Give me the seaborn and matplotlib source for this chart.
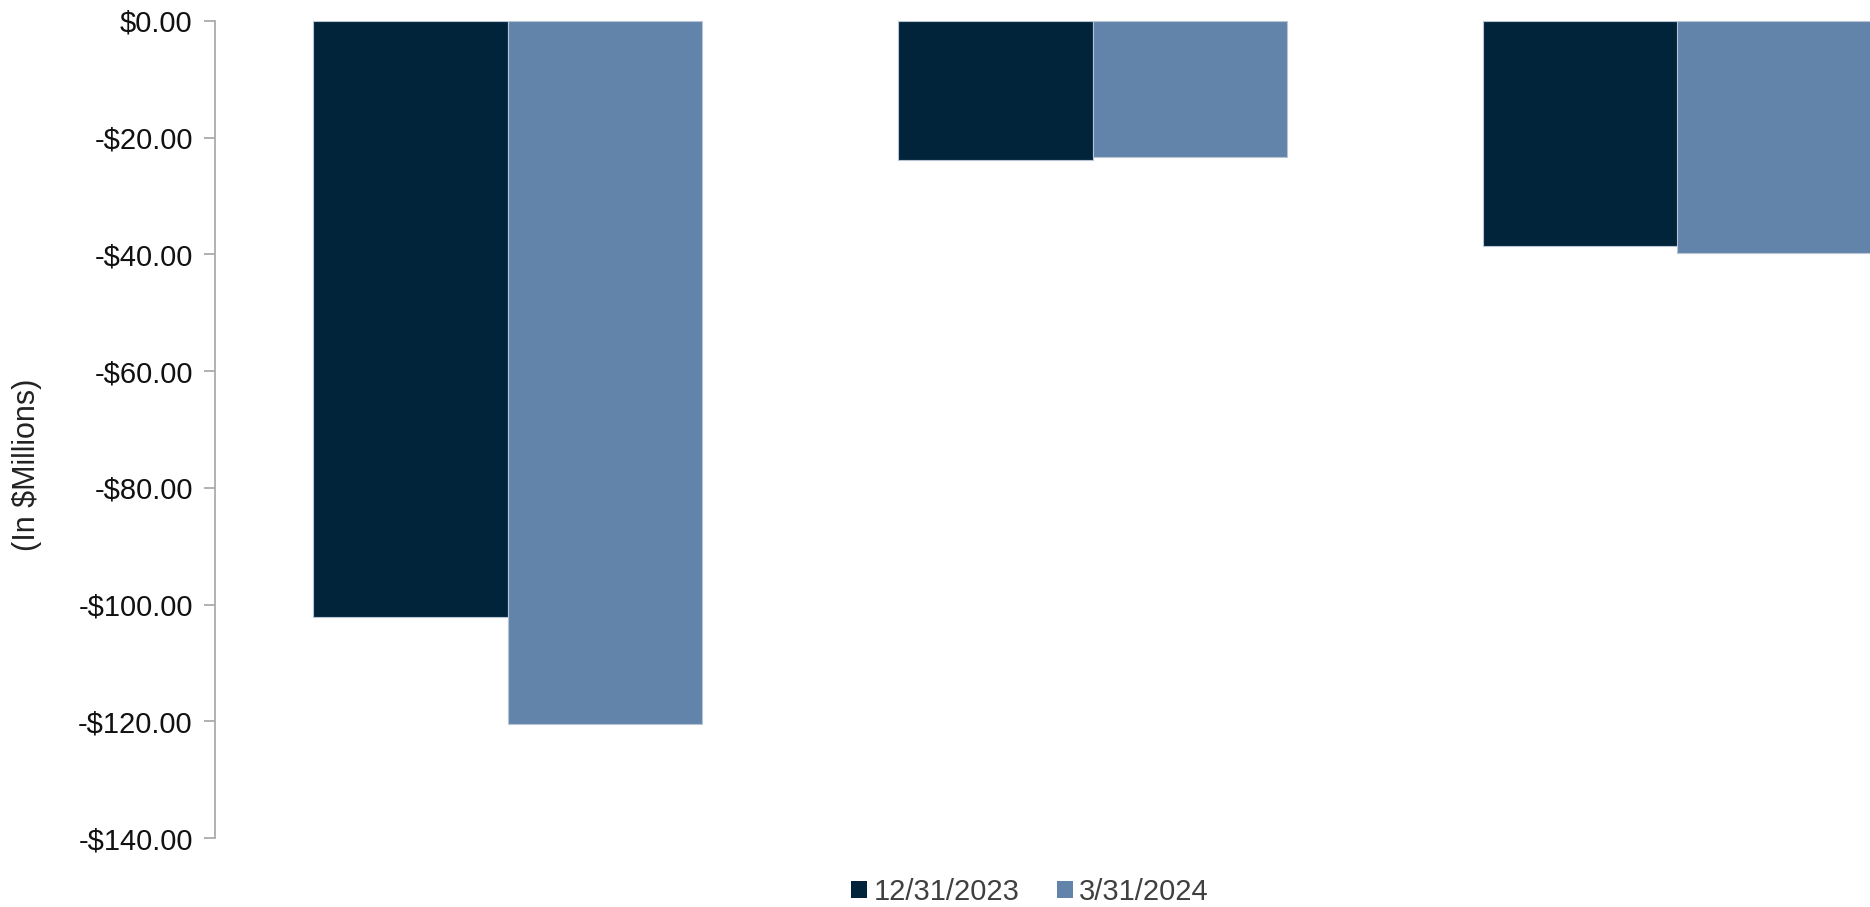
import matplotlib
matplotlib.use("Agg")
import matplotlib.pyplot as plt
import seaborn as sns
import pandas as pd
from matplotlib.patches import Patch

categories = ["A", "B", "C"]
series_names = ["12/31/2023", "3/31/2024"]
values_2023 = [-102.2, -23.8, -38.5]
values_2024 = [-120.5, -23.3, -39.7]
colors = ["#02243A", "#6384AA"]
yticks = [0, -20, -40, -60, -80, -100, -120, -140]

df = pd.DataFrame({
    "category": categories * 2,
    "series": [series_names[0]] * 3 + [series_names[1]] * 3,
    "value": values_2023 + values_2024,
})

sns.set_style("white")
plt.rcParams["font.family"] = ["Liberation Sans", "DejaVu Sans"]

fig = plt.figure(figsize=(18.7, 9.07), dpi=100)
ax = fig.add_axes([215 / 1870, 69 / 907, 1755 / 1870, 817 / 907])

sns.barplot(data=df, x="category", y="value", hue="series",
            palette=colors, width=0.665, gap=0, dodge=True,
            edgecolor="#b7c4d3", linewidth=0.8, ax=ax, legend=False,
            saturation=1)

ax.set_xlim(-0.5, 2.5)
ax.set_ylim(-140, 0)
ax.set_yticks(yticks)
ax.set_yticklabels([f"-${abs(v):.2f}" if v < 0 else f"${v:.2f}" for v in yticks])
ax.set_xticks([])
ax.set_xlabel("")
ax.set_ylabel("(In $Millions)", fontsize=22, color="#222222", va="center")
ax.yaxis.set_label_coords(-(215 - 27) / 1755, (838 - 465) / 817)

for s in ["top", "right", "bottom"]:
    ax.spines[s].set_visible(False)
ax.spines["left"].set_color("#ABABAB")
ax.spines["left"].set_linewidth(1.3)
ax.tick_params(axis="y", which="major", direction="out", length=8, width=1.3,
               color="#ABABAB", labelsize=21, labelcolor="#111111", pad=8, left=True)

handles = [Patch(facecolor=c, edgecolor="none") for c in colors]
fig.legend(handles, series_names, loc="center", bbox_to_anchor=(1030 / 1870, 15 / 907),
           ncol=2, frameon=False, fontsize=21, labelcolor="#404040",
           handlelength=0.55, handleheight=0.55, handletextpad=0.2, columnspacing=1.3)

fig.savefig("out.png", dpi=100)
